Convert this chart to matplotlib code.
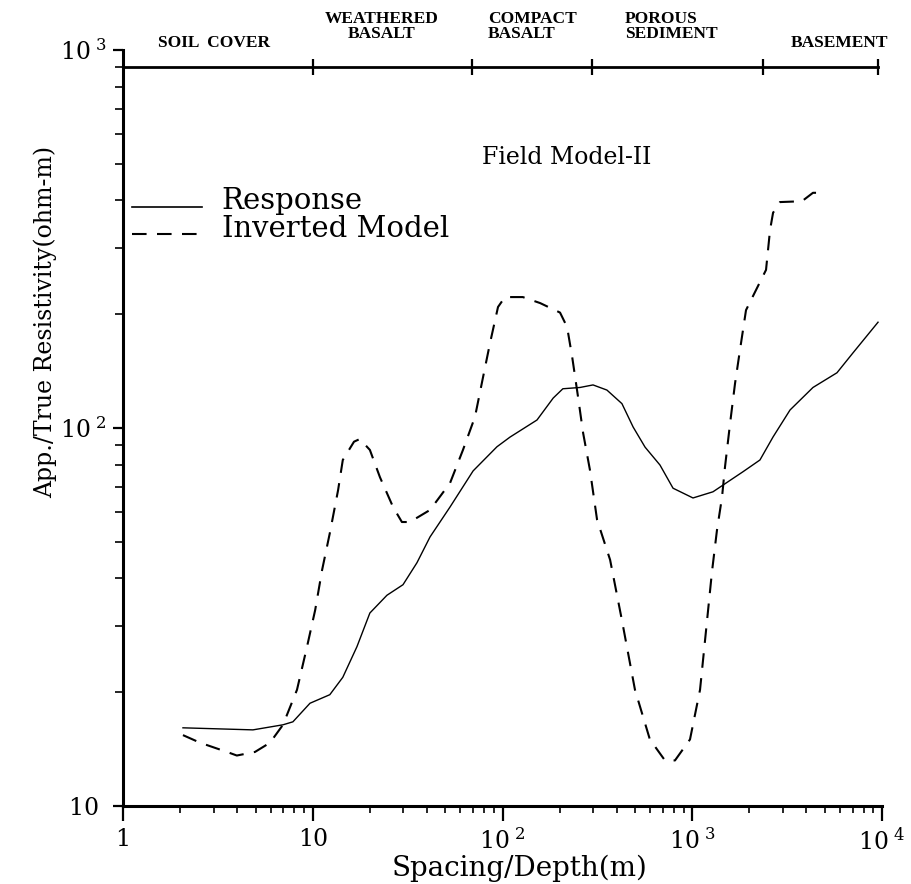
import matplotlib
matplotlib.use("Agg")
import matplotlib.pyplot as plt
from matplotlib.ticker import FixedLocator, FixedFormatter, LogLocator, NullFormatter

# response curve (spacing in m, apparent resistivity in ohm-m)
resp_x = [2.07, 4.84, 6.97, 7.86, 9.67, 12.3, 14.4, 17.1, 20.0, 24.6, 29.9, 35.4, 41.5,
          52.9, 70, 93.5, 109.5, 152, 185, 208, 256, 300, 355, 426, 488, 564, 676, 792,
          1009, 1286, 1850, 2274, 2666, 3276, 4327, 5790, 7030, 9530]
resp_y = [16.1, 15.9, 16.4, 16.7, 18.7, 19.7, 21.9, 26.4, 32.4, 36.1, 38.5, 44.0, 51.5,
          61.8, 77, 89.2, 94.6, 105, 120, 127, 128, 130, 126, 116, 100.6, 89, 79.8, 69.3,
          65.3, 67.8, 76.6, 82.3, 94.7, 111.6, 128, 140, 158, 190.5]

# inverted model (depth in m, true resistivity in ohm-m)
inv_x = [2.07, 2.55, 3.53, 3.98, 4.96, 5.95, 6.97, 8.26, 9.33, 10.3, 11.2, 12.3, 13.6,
         14.4, 16.5, 17.7, 20.0, 22.6, 26.5, 29.5, 32.5, 41.5, 52.9, 61.9, 71.6, 78.9,
         86, 94.7, 103, 128, 158, 201, 219, 233, 250, 266, 289, 315, 369, 426, 499, 598,
         718, 811, 973, 1099, 1197, 1270, 1350, 1435, 1488, 1583, 1680, 1785, 1920,
         2448, 2570, 2666, 2899, 3785, 4327, 4711]
inv_y = [15.4, 14.7, 13.9, 13.6, 13.9, 14.7, 16.4, 20.3, 26.4, 33.0, 42.1, 52.7, 68.5,
         82.3, 92, 93.5, 87.5, 74.1, 61.8, 56.4, 56.4, 60.7, 71.5, 87.5, 107, 136,
         168, 209, 222, 222, 214, 202, 185, 154, 121, 97, 77.4, 57.2, 44.8, 31.0, 20.3, 15.0,
         13.2, 13.2, 15.0, 20.3, 31.0, 41.6, 53.7, 65.6, 78.9, 103, 131, 161, 205,
         262, 334, 371, 396, 398, 419, 419]

# layer boundaries on the top strip and their names
layer_bounds = [1, 10, 69, 296, 2360, 9500]
layer_names = ["SOIL  COVER", "WEATHERED\nBASALT", "COMPACT\nBASALT",
               "POROUS\nSEDIMENT", "BASEMENT"]

x_ticks = [1, 10, 100, 1000, 10000]
x_labels = ["1", "10", r"$10^{\ 2}$", r"$10^{\ 3}$", r"$10^{\ 4}$"]
y_ticks = [10, 100, 1000]
y_labels = ["10 ", r"$10^{\ 2}$", r"$10^{\ 3}$"]

serif = ["DejaVu Serif"]
plt.rcParams["mathtext.fontset"] = "dejavuserif"
plt.rcParams["font.family"] = serif

W, H = 911, 884
fig = plt.figure(figsize=(W / 100, H / 100), dpi=100)
ax = fig.add_axes([123 / W, (H - 806) / H, 759 / W, 756 / H])

ax.set_xscale("log")
ax.set_yscale("log")
ax.set_xlim(1, 1e4)
ax.set_ylim(10, 1000)

ax.plot(resp_x, resp_y, color="black", lw=1.0)
ax.plot(inv_x, inv_y, color="black", lw=1.5, dashes=(7, 5))

# spines
for s in ["top", "right"]:
    ax.spines[s].set_visible(False)
for s in ["left", "bottom"]:
    ax.spines[s].set_linewidth(2.2)

ax.xaxis.set_major_locator(FixedLocator(x_ticks))
ax.xaxis.set_major_formatter(FixedFormatter(x_labels))
ax.yaxis.set_major_locator(FixedLocator(y_ticks))
ax.yaxis.set_major_formatter(FixedFormatter(y_labels))
ax.xaxis.set_minor_locator(LogLocator(base=10, subs=range(2, 10)))
ax.yaxis.set_minor_locator(LogLocator(base=10, subs=range(2, 10)))
ax.xaxis.set_minor_formatter(NullFormatter())
ax.yaxis.set_minor_formatter(NullFormatter())

ax.tick_params(axis="x", which="major", direction="out", length=11, width=1.6,
               labelsize=17, pad=5)
ax.tick_params(axis="x", which="minor", direction="out", length=5, width=1.2)
ax.tick_params(axis="y", which="major", direction="out", length=7, width=1.6,
               labelsize=17, pad=5)
ax.tick_params(axis="y", which="minor", direction="out", length=6, width=1.2)

ax.set_xlabel("Spacing/Depth(m)", fontsize=20)
ax.xaxis.set_label_coords(0.523, -0.064)
ax.set_ylabel("App./True Resistivity(ohm-m)", fontsize=17)
ax.yaxis.set_label_coords(-0.087, 0.64)

# top layer strip
ax.plot([layer_bounds[0], layer_bounds[-1]], [900, 900], color="black", lw=2.0,
        clip_on=False)
ax.plot(layer_bounds[1:], [900] * (len(layer_bounds) - 1), ls="none", marker="|",
        markersize=11, markeredgewidth=1.6, color="black", clip_on=False)

# layer names (figure pixel positions)
name_pos = [(214, 47, "center"), (382, 38, "center"), (488, 38, "left"),
            (625, 38, "left"), (839, 47, "center")]
for name, (px, py, ha) in zip(layer_names, name_pos):
    fig.text(px / W, 1 - py / H, name, ha=ha, va="baseline", fontsize=12.5,
             fontweight="bold", family=["Liberation Serif"], linespacing=0.95,
             multialignment=ha)

ax.text(0.585, 0.858, "Field Model-II", transform=ax.transAxes, fontsize=17,
        ha="center", va="center")

# legend
ax.plot([0.012, 0.104], [0.792, 0.792], color="black", lw=1.2,
        transform=ax.transAxes, clip_on=False)
ax.plot([0.012, 0.104], [0.757, 0.757], color="black", lw=1.5, dashes=(7, 5),
        transform=ax.transAxes, clip_on=False)
ax.text(0.130, 0.800, "Response", transform=ax.transAxes, fontsize=21,
        ha="left", va="center")
ax.text(0.130, 0.763, "Inverted Model", transform=ax.transAxes, fontsize=21,
        ha="left", va="center")

fig.savefig("out.png", dpi=100)
